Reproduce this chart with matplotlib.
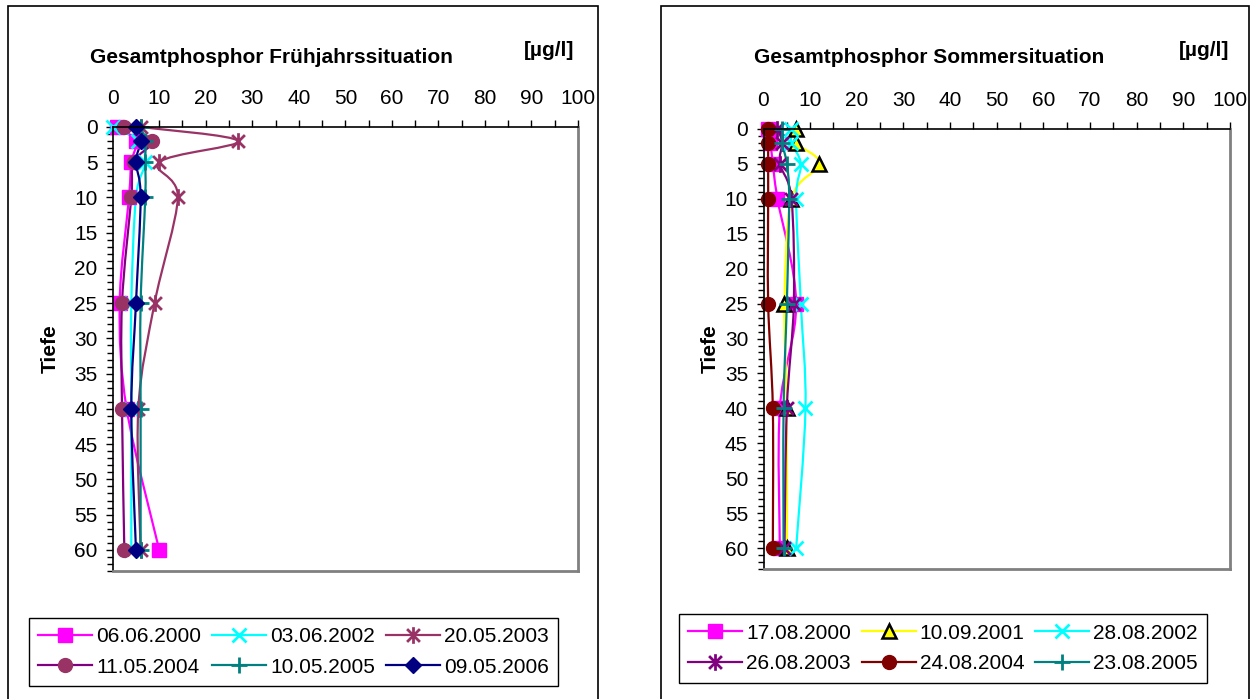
import matplotlib
matplotlib.use('Agg')
import matplotlib.pyplot as plt
from matplotlib.path import Path
from matplotlib.patches import PathPatch, Rectangle
from matplotlib.lines import Line2D
from matplotlib.ticker import MultipleLocator

plt.rcParams['font.family'] = ['Liberation Sans', 'DejaVu Sans']

# Tiefe [m]
depth = [0, 2, 5, 10, 25, 40, 60]

# Frühjahr, Gesamtphosphor [µg/l]
fj_labels = ['06.06.2000', '03.06.2002', '20.05.2003', '11.05.2004', '10.05.2005', '09.05.2006']
fj_2000 = [1, 5, 4, 3.5, 1.5, 3, 10]
fj_2002 = [0, 5.5, 7, 5, 4, 4, 4]
fj_2003 = [6, 27, 10, 14, 9, 5.5, 6]
fj_2004 = [2.5, 8.5, 4.5, 4, 2, 2, 2.5]
fj_2005 = [6, 7, 7, 7, 6, 6, 6]
fj_2006 = [5, 6, 5, 6, 5, 4, 5]

# Sommer, Gesamtphosphor [µg/l]
so_labels = ['17.08.2000', '10.09.2001', '28.08.2002', '26.08.2003', '24.08.2004', '23.08.2005']
so_2000 = [1, 1.5, 2, 3, 7, 3.5, 3.5]
so_2001 = [7, 7, 12, 6, 4.5, 5, 5]
so_2002 = [6, 6, 8, 7, 8, 9, 7]
so_2003 = [3, 4, 3.5, 6, 6.5, 5, 4.5]
so_2004 = [1, 1, 1, 1, 1, 2, 2]
so_2005 = [4, 4, 5, 5.5, 5, 4.3, 4.3]

# asterisk like Excel: X with vertical bar
star = Path([(-1, -1), (1, 1), (-1, 1), (1, -1), (0, -1.3), (0, 1.3)],
            [Path.MOVETO, Path.LINETO, Path.MOVETO, Path.LINETO, Path.MOVETO, Path.LINETO])

# (line colour, marker, face, edge, size, edge width)
fj_styles = [
    ('#FF00FF', 's', '#FF00FF', '#FF00FF', 9.5, 1),
    ('#00FFFF', 'x', '#00FFFF', '#00FFFF', 10, 2),
    ('#993366', star, '#993366', '#993366', 12, 2),
    ('#800080', 'o', '#993366', '#993366', 10, 1),
    ('#008080', '+', '#008080', '#008080', 11, 2),
    ('#000080', 'D', '#000080', '#000080', 8, 1),
]
so_styles = [
    ('#FF00FF', 's', '#FF00FF', '#FF00FF', 9.5, 1),
    ('#FFFF00', '^', '#FFFF00', '#000000', 9.5, 1.8),
    ('#00FFFF', 'x', '#00FFFF', '#00FFFF', 10, 2),
    ('#800080', star, '#800080', '#800080', 12, 2),
    ('#800000', 'o', '#800000', '#800000', 10, 1),
    ('#008080', '+', '#008080', '#008080', 11, 2),
]


def smooth_path(x, y):
    # Bezier segments like Excel's smoothed lines
    pts = list(zip(x, y))
    n = len(pts)
    verts = [pts[0]]
    codes = [Path.MOVETO]
    for i in range(n - 1):
        p0 = pts[i - 1] if i > 0 else pts[i]
        p1 = pts[i]
        p2 = pts[i + 1]
        p3 = pts[i + 2] if i + 2 < n else pts[i + 1]
        c1 = (p1[0] + (p2[0] - p0[0]) / 6, p1[1] + (p2[1] - p0[1]) / 6)
        c2 = (p2[0] - (p3[0] - p1[0]) / 6, p2[1] - (p3[1] - p1[1]) / 6)
        verts += [c1, c2, p2]
        codes += [Path.CURVE4] * 3
    return Path(verts, codes)


def draw_panel(fig, rect, title, series, labels, styles, title_x, unit_x, tiefe_x, legend_xy):
    ax = fig.add_axes(rect)
    handles = []
    for vals, lab, (col, mk, mfc, mec, ms, mew) in zip(series, labels, styles):
        ax.add_patch(PathPatch(smooth_path(vals, depth), fill=False, edgecolor=col, lw=1.6))
        ax.plot(vals, depth, linestyle='none', marker=mk, mfc=mfc, mec=mec, ms=ms, mew=mew, clip_on=False)
        handles.append(Line2D([], [], color=col, lw=1.6, marker=mk, mfc=mfc, mec=mec, ms=ms, mew=mew))

    ax.set_xlim(0, 100)
    ax.set_ylim(63, 0)
    ax.xaxis.tick_top()
    ax.xaxis.set_major_locator(MultipleLocator(10))
    ax.xaxis.set_minor_locator(MultipleLocator(5))
    ax.yaxis.set_major_locator(MultipleLocator(5))
    ax.yaxis.set_minor_locator(MultipleLocator(1))
    ax.tick_params(axis='x', which='both', direction='out', length=5, width=1, labelsize=15, pad=9)
    ax.tick_params(axis='y', which='major', direction='out', length=5, width=1, labelsize=15, pad=6)
    ax.tick_params(axis='y', which='minor', direction='out', length=4, width=1)
    for s in ['left', 'top']:
        ax.spines[s].set_color('black')
        ax.spines[s].set_linewidth(1.2)
    for s in ['right', 'bottom']:
        ax.spines[s].set_color('#808080')
        ax.spines[s].set_linewidth(2)

    fig.text(title_x, 0.918, title, ha='center', va='center', fontsize=15, fontweight='bold')
    fig.text(unit_x, 0.928, '[µg/l]', ha='center', va='center', fontsize=15, fontweight='bold')
    fig.text(tiefe_x, rect[1] + rect[3] * 0.5, 'Tiefe', rotation=90, ha='center', va='center',
             fontsize=15, fontweight='bold')

    order = [0, 3, 1, 4, 2, 5]
    leg = fig.legend([handles[i] for i in order], [labels[i] for i in order], ncol=3,
                     loc='center', bbox_to_anchor=legend_xy, fontsize=15, frameon=True,
                     fancybox=False, edgecolor='black', framealpha=1, handlelength=2.6,
                     handletextpad=0.2, columnspacing=0.5, labelspacing=0.55, borderpad=0.45)
    leg.get_frame().set_linewidth(1)
    return ax


fig = plt.figure(figsize=(12.57, 6.99), dpi=100)

# outer chart frames
fig.add_artist(Rectangle((8 / 1257, -0.01), 590 / 1257, 1 - 6 / 699 + 0.01, transform=fig.transFigure,
                         fill=False, edgecolor='black', lw=1.2))
fig.add_artist(Rectangle((661 / 1257, -0.01), 588 / 1257, 1 - 6 / 699 + 0.01, transform=fig.transFigure,
                         fill=False, edgecolor='black', lw=1.2))

draw_panel(fig, [112.7 / 1257, 1 - 571 / 699, (578 - 112.7) / 1257, (571 - 127) / 699],
           'Gesamtphosphor Frühjahrssituation',
           [fj_2000, fj_2002, fj_2003, fj_2004, fj_2005, fj_2006], fj_labels, fj_styles,
           271 / 1257, 549 / 1257, 50 / 1257, (293.5 / 1257, 1 - 652 / 699))

draw_panel(fig, [763.5 / 1257, 1 - 569 / 699, (1230 - 763.5) / 1257, (569 - 129) / 699],
           'Gesamtphosphor Sommersituation',
           [so_2000, so_2001, so_2002, so_2003, so_2004, so_2005], so_labels, so_styles,
           929 / 1257, 1204 / 1257, 710 / 1257, (943 / 1257, 1 - 648.5 / 699))

fig.savefig('out.png', dpi=100)
